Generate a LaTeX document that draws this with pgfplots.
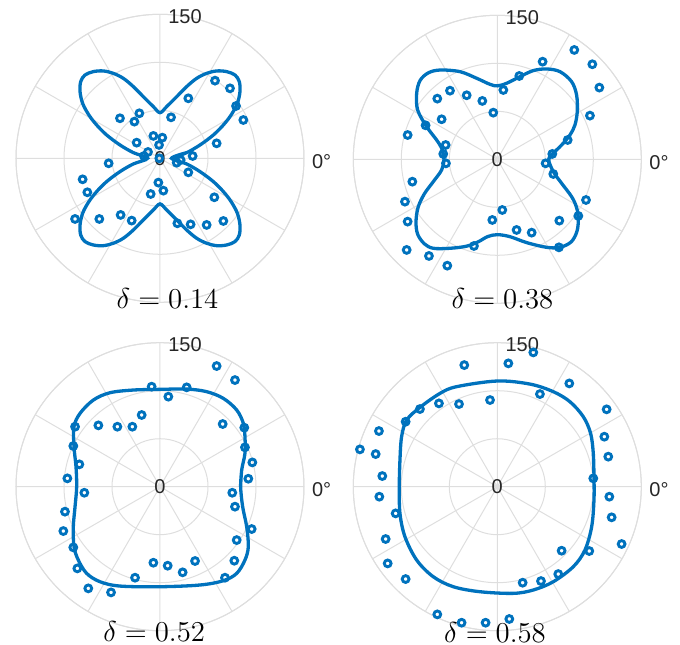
\documentclass[border=0pt]{standalone}
\usepackage[no-math]{fontspec}
\usepackage{pgfplots}
\pgfplotsset{compat=1.18}
\usepgfplotslibrary{polar}
\newfontfamily\arialf{Liberation Sans}
\definecolor{mblue}{RGB}{0,114,189}
\definecolor{gridc}{RGB}{222,222,222}
\pgfplotsset{
  mypolar/.style={
    scale only axis, width=144pt, height=144pt,
    anchor=center,
    xmin=0, xmax=360, ymin=0, ymax=150,
    xtick={0,30,...,330}, ytick={50,100,150},
    xticklabel={\relax}, yticklabel={\relax},
    grid=major,
    major grid style={gridc, line width=0.5pt},
    axis line style={gridc, line width=0.5pt},
    major tick length=0pt,
    clip=false,
  },
  pts/.style={data cs=cart, only marks, mark=o, mark size=1.7pt, color=mblue, line width=1.45pt, mark options={solid}},
  crv/.style={data cs=cart, color=mblue, line width=1.65pt, smooth, tension=0.55, no markers},
}
\tikzset{lab/.style={font=\arialf\fontsize{10}{12}\selectfont, inner sep=0pt, text=black!85}}
\newcommand{\polarlabels}{%
  \node[lab] at (axis cs:80,150) {150};
  \node[lab] at (axis cs:0,0) {0};
  \node[lab, anchor=west, xshift=3.85pt, yshift=-1.7pt] at (axis cs:0,150) {0°};
}
\begin{document}
\begin{tikzpicture}
\useasboundingbox (0,0) rectangle (340pt,322pt);

% ---------- top left
\begin{polaraxis}[mypolar, at={(80pt,242.85pt)}]
\addplot[crv] coordinates {
(12,0) (27.8,5.9) (41.7,13.9) (55.6,24.3) (66,34.7) (74,45) (80.5,57) (83.3,69.4) (82.6,79.9) (78.1,86.8) (69.4,90.3) (59,91) (48.6,88.5) (38.2,83.3) (27.8,74.7) (17.4,64.2) (6.9,53.8) (0,47.5)
(-6.9,53.8) (-17.4,64.2) (-27.8,74.7) (-38.2,83.3) (-48.6,88.5) (-59,91) (-69.4,90.3) (-78.1,86.8) (-82.6,79.9) (-83.3,69.4) (-80.5,57) (-74,45) (-66,34.7) (-55.6,24.3) (-41.7,13.9) (-27.8,5.9) (-13,0)
(-27.8,-5.9) (-41.7,-13.9) (-55.6,-24.3) (-66,-34.7) (-74,-45) (-80.5,-57) (-83.3,-69.4) (-82.6,-79.9) (-78.1,-86.8) (-69.4,-90.3) (-59,-91) (-48.6,-88.5) (-38.2,-83.3) (-27.8,-74.7) (-17.4,-64.2) (-6.9,-53.8) (0,-47.5)
(6.9,-53.8) (17.4,-64.2) (27.8,-74.7) (38.2,-83.3) (48.6,-88.5) (59,-91) (69.4,-90.3) (78.1,-86.8) (82.6,-79.9) (83.3,-69.4) (80.5,-57) (74,-45) (66,-34.7) (55.6,-24.3) (41.7,-13.9) (27.8,-5.9) (12,0) (27.8,5.9)
};
\addplot[pts] coordinates {
(57.3,80.9) (72.9,72.9) (29.5,62.5) (79.2,54.5) (86.8,39.9) (11.5,42.7) (-21.5,46.9) (-26.7,38.2) (-41.7,41.7) (-6.9,23.3) (2.4,21.5) (-1,13.9) (-24.3,16.3) (59,15.6) (-12.5,6.6) (-16.7,2.4) (34,2.4) (17.4,-4.6) (21.5,-1.8) (-0.7,0) (-53.5,-5.2) (29.5,-14.6) (-80.6,-21.9) (-75.7,-35.4) (-1.7,-25.3) (3.5,-33.7) (-9.7,-37.2) (56.6,-40.6) (-88.5,-63.2) (-63.2,-63.2) (-41,-59) (-29.5,-64.9) (18.1,-67.7) (31.9,-68.8) (48.6,-69.4) (66,-65.3)
};
\polarlabels
\end{polaraxis}

% ---------- top right
\begin{polaraxis}[mypolar, at={(248.65pt,242.35pt)}]
\addplot[crv] coordinates {
(53.5,0) (58.3,6.3) (67,14.9) (75.7,25.3) (80.9,35.8) (83.3,49.7) (82.6,67) (77.4,80.9) (65.3,91.3) (51.4,94.1) (37.5,92.4) (23.6,86.1) (9.7,79.2) (0,76.5)
(-7.6,78.1) (-21.5,84.4) (-38.9,91.3) (-59.7,93) (-72,90) (-80.5,82) (-84,68.8) (-83,51.4) (-73.6,34) (-63.2,20.1) (-58,11.5) (-55.6,0)
(-58,-11.1) (-66.7,-23.3) (-76,-36) (-82.5,-50) (-84.7,-65) (-83,-78) (-76,-88) (-66.7,-92.7) (-49.3,-92.7) (-32,-90.5) (-20,-86) (-10,-80.5) (0,-78.5)
(13.2,-80.6) (30.6,-86.8) (51.4,-91.7) (65.3,-91.7) (77,-86) (83,-75) (84.4,-62) (82.5,-50) (77.4,-38.9) (67,-25) (58.3,-12.8) (53.5,0) (58.3,6.3)
};
\addplot[pts] coordinates {
(80.2,113.9) (99,99) (47.2,101.7) (106.3,74.7) (22.9,86.8) (6.3,72.2) (-49.3,71.5) (-62.5,63.2) (-31.9,66.7) (-15.6,60.8) (-4.2,48.6) (96.5,45.5) (-58,41.7) (-74.7,35.4) (-93.4,25.3) (73.3,20.1) (-53.8,14.9) (-56.3,5.6) (57.3,5.6) (-53.5,-4.2) (50.3,-4.2) (58.3,-15.3) (-88.5,-23.3) (92.4,-42.4) (-96.2,-44.1) (5.2,-52.8) (84.4,-59) (-93.4,-64.9) (-5.2,-63.2) (64.6,-63.9) (20.1,-73.6) (35.8,-76.4) (-24.3,-90.3) (64.2,-91.7) (-94.4,-94.4) (-71.2,-100.7) (-52.1,-110.8)
};
\polarlabels
\end{polaraxis}

% ---------- bottom left
\begin{polaraxis}[mypolar, at={(80pt,78.65pt)}]
\addplot[crv] coordinates {
(84,0) (85.1,17.4) (88.5,34.7) (88.5,52.1) (86.8,66) (79.9,79.9) (66,92) (48.6,99) (27.8,101.7) (0,101.4) (-27.8,100.7) (-52.1,97.9) (-69.4,90.3) (-83.3,76.4) (-89.6,62.5) (-89.6,41.7) (-87.5,20.8) (-86.8,0)
(-88.5,-20.8) (-90.3,-41.7) (-89.6,-62.5) (-85.1,-76.4) (-76.4,-90.3) (-62.5,-99) (-41.7,-103.5) (0,-104.2) (41.7,-102.4) (66,-97.9) (79.9,-90.3) (88.5,-76.4) (92,-62.5) (90.3,-41.7) (86.1,-20.8) (84,0) (85.1,17.4)
};
\addplot[pts] coordinates {
(59,125.7) (78.1,111.1) (-8.7,104.2) (27.8,103.5) (8.7,93.8) (-19.1,74.7) (-64.2,63.9) (-44.4,62.5) (-28.8,62.5) (-88.5,62.5) (65.3,65.3) (87.8,61.5) (-90.3,42.4) (88.5,41) (-84,23.3) (96.2,25.3) (-96.5,8.7) (92,8.3) (-78.8,-6.3) (75.3,-6.3) (78.1,-20.8) (-99,-26) (95.5,-44.1) (-100.7,-46.2) (79.9,-55.6) (-90.3,-63.2) (77.4,-77.1) (-6.9,-79.2) (8,-82.3) (36.5,-77.4) (23.6,-89.2) (-86.1,-85.1) (-26,-94.8) (67.7,-94.8) (-74.7,-105.9) (-51,-110.1)
};
\polarlabels
\end{polaraxis}

% ---------- bottom right
\begin{polaraxis}[mypolar, at={(248.65pt,78.65pt)}]
\addplot[crv] coordinates {
(100.7,10.4) (100,34.7) (97.2,55.6) (89.6,72.9) (75.7,88.5) (58.3,99) (34,106.9) (0,110.1) (-42.4,104.2) (-59.7,97.2) (-80.6,82.6) (-94.4,69.4) (-99.7,52.1) (-101.4,27.8) (-102.1,0)
(-101.4,-27.8) (-96.2,-52.1) (-84,-76.4) (-66.7,-93.8) (-45.8,-104.2) (-18.1,-109.4) (16.7,-111.1) (37.5,-107.6) (58.3,-99) (79.2,-83.3) (91.3,-66) (98.3,-41.7) (100.7,-13.9) (100.7,10.4) (100,34.7)
};
\addplot[pts] coordinates {
(37.5,139.9) (11.5,128.5) (-34.4,126.7) (75,107.6) (44.4,96.5) (-7.6,90.3) (-39.9,86.1) (-60.8,86.8) (-80.6,80.9) (113.9,80.6) (-95.5,67.7) (-123.3,58) (111.5,52.1) (-143.1,38.9) (-126.7,34) (115.6,31.3) (-119.8,11.1) (100,8.7) (-122.9,-10.4) (116.7,-10.4) (-105.9,-27.8) (119.1,-31.9) (-116.3,-54.5) (67,-66.7) (95.8,-67) (129.5,-59.7) (-114.2,-79.9) (63.5,-91) (45.5,-98.3) (26.4,-100) (-95.5,-96.2) (-62.5,-133) (-37.2,-141.7) (-12.2,-141.7) (12.5,-137.8)
};
\polarlabels
\end{polaraxis}

% ---------- titles
\begin{scope}[every node/.style={anchor=base, inner sep=0pt, font=\fontsize{14}{17}\selectfont}]
\node at (83.75pt,167.85pt) {$\delta = 0.14$};
\node at (251.25pt,167.85pt) {$\delta = 0.38$};
\node at (77.1pt,1.2pt) {$\delta = 0.52$};
\node at (247.5pt,1.0pt) {$\delta = 0.58$};
\end{scope}
\end{tikzpicture}
\end{document}
